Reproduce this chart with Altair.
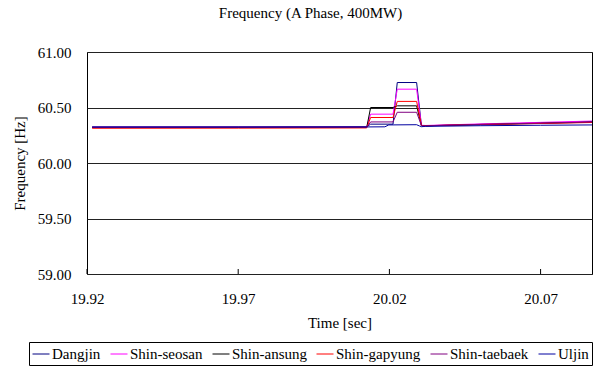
import altair as alt
import pandas as pd

FONT = "Liberation Serif"

series = ["Dangjin", "Shin-seosan", "Shin-ansung", "Shin-gapyung", "Shin-taebaek", "Uljin"]
colors = ["#000080", "#ff00ff", "#000000", "#ff0000", "#800080", "#0000a0"]

# time points (sec)
time = [19.9217, 19.97, 20.0125, 20.0138, 20.0212, 20.0226, 20.0290, 20.0306, 20.0320, 20.05, 20.07, 20.087]
uljin_time = [19.9217, 19.97, 20.0125, 20.0185, 20.0198, 20.0290, 20.0300, 20.0306, 20.0320, 20.05, 20.07, 20.087]

# frequency values (Hz)
dangjin = [60.325, 60.325, 60.326, 60.350, 60.350, 60.725, 60.725, 60.338, 60.336, 60.348, 60.360, 60.372]
shin_seosan = [60.322, 60.322, 60.323, 60.440, 60.440, 60.665, 60.665, 60.340, 60.338, 60.352, 60.366, 60.378]
shin_ansung = [60.320, 60.320, 60.321, 60.500, 60.500, 60.515, 60.515, 60.336, 60.335, 60.345, 60.357, 60.368]
shin_gapyung = [60.313, 60.314, 60.316, 60.410, 60.410, 60.555, 60.555, 60.337, 60.336, 60.347, 60.356, 60.365]
shin_taebaek = [60.321, 60.322, 60.323, 60.370, 60.370, 60.457, 60.457, 60.336, 60.335, 60.348, 60.360, 60.370]
uljin = [60.324, 60.324, 60.325, 60.326, 60.343, 60.345, 60.333, 60.327, 60.330, 60.336, 60.340, 60.343]

x_ticks = [19.92, 19.97, 20.02, 20.07]
y_ticks = [59.0, 59.5, 60.0, 60.5, 61.0]

values = {
    "Dangjin": (time, dangjin),
    "Shin-seosan": (time, shin_seosan),
    "Shin-ansung": (time, shin_ansung),
    "Shin-gapyung": (time, shin_gapyung),
    "Shin-taebaek": (time, shin_taebaek),
    "Uljin": (uljin_time, uljin),
}
rows = []
for k, s in enumerate(series):
    ts, vs = values[s]
    for t, v in zip(ts, vs):
        rows.append({"time": t, "freq": v, "series": s, "ord": k})
df = pd.DataFrame(rows)

xscale = alt.Scale(domain=[19.92, 20.087], nice=False, zero=False)
yscale = alt.Scale(domain=[59, 61], nice=False, zero=False)

lines = alt.Chart(df).mark_line(strokeWidth=1, clip=True).encode(
    x=alt.X("time:Q", scale=xscale,
            axis=alt.Axis(values=x_ticks, format=".2f", title="Time [sec]", grid=False,
                          tickSize=0, domain=False, labelPadding=17, titlePadding=9,
                          labelFlush=False,
                          labelFont=FONT, labelFontSize=15, labelColor="black",
                          titleFont=FONT, titleFontSize=15, titleColor="black",
                          titleFontWeight="normal")),
    y=alt.Y("freq:Q", scale=yscale,
            axis=alt.Axis(values=y_ticks, format=".2f", title="Frequency [Hz]", grid=True,
                          gridColor="#222222", gridWidth=1, gridOpacity=1,
                          tickSize=0, domain=False, labelPadding=16,
                          labelFont=FONT, labelFontSize=15, labelColor="black",
                          titleFont=FONT, titleFontSize=15, titleColor="black",
                          titleFontWeight="normal",
                          titleAngle=-90, titleX=-68, titleY=111, titleAlign="center",
                          titleBaseline="middle")),
    color=alt.Color("series:N", scale=alt.Scale(domain=series, range=colors),
                    legend=alt.Legend(orient="none", legendX=-58, legendY=290,
                                      direction="horizontal", columns=6, title=None,
                                      symbolType="stroke", symbolSize=289, symbolStrokeWidth=1,
                                      labelFont=FONT, labelFontSize=15, labelColor="black",
                                      labelOffset=2, columnPadding=7, padding=3,
                                      strokeColor="black", fillColor="white")),
    detail="series:N",
    order=alt.Order("time:Q"),
)

ticks = alt.Chart(pd.DataFrame({"time": x_ticks})).mark_rule(color="black", strokeWidth=1).encode(
    x=alt.X("time:Q", scale=xscale),
    y=alt.value(222),
    y2=alt.value(217),
)

chart = alt.layer(lines, ticks).properties(
    width=505, height=222,
    padding={"left": 87, "top": 52, "right": 5, "bottom": 93},
    autosize=alt.AutoSizeParams(type="none"),
    background="white",
    title=alt.TitleParams("Frequency (A Phase, 400MW)", font=FONT, fontSize=15,
                          fontWeight="normal", color="black", anchor="middle",
                          baseline="alphabetic", offset=12, dx=-29),
).configure_view(stroke="black", strokeWidth=1)

chart.save("out.html", embed_options={"renderer": "svg", "actions": False})
